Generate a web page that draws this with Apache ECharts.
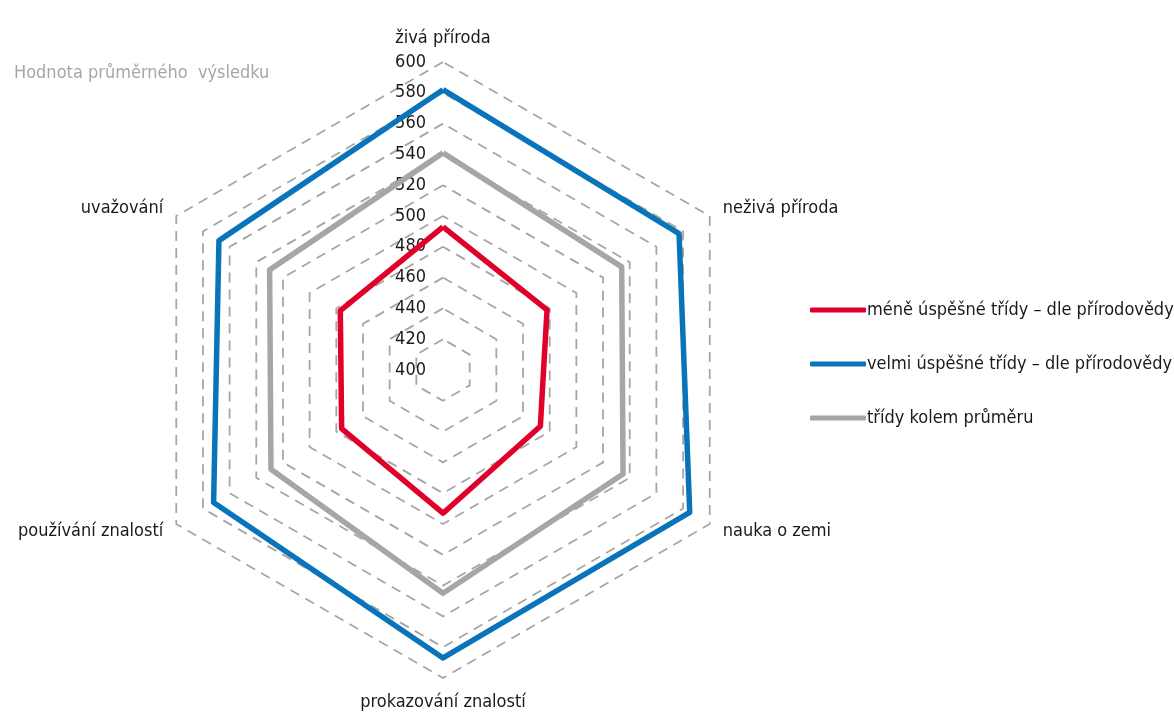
<!DOCTYPE html>
<html>
<head>
    <meta charset="UTF-8">
    <title>Hodnota průměrného výsledku</title>
    <script src="https://cdn.jsdelivr.net/npm/echarts@6/dist/echarts.min.js"></script>
    <style type="text/css">
        html, body, #main {
            height: 100%;
            width: 100%;
            margin: 0;
            padding: 0;
            background: #fff;
        }
    </style>
</head>
<body>
<div id="main"></div>
<script type="text/javascript">
    var FONT = "'Liberation Sans Narrow', 'DejaVu Sans Condensed', sans-serif";

    // osy (po směru hodinových ručiček od horní)
    var axes = ['živá příroda', 'neživá příroda', 'nauka o zemi', 'prokazování znalostí', 'používání znalostí', 'uvažování'];
    var seriesNames = ['méně úspěšné třídy – dle přírodovědy', 'velmi úspěšné třídy – dle přírodovědy', 'třídy kolem průměru'];
    var weakValues = [493, 478, 473, 493, 476, 477];
    var strongValues = [582, 577, 585, 587, 572, 568];
    var averageValues = [541, 534, 535, 545, 529, 530];
    var colors = ['#e0002a', '#0a74bb', '#a6a6a6'];

    var mycharts = echarts.init(document.getElementById('main'));

    // ECharts kreslí indikátory proti směru hodinových ručiček -> pořadí otočit
    var order = [0, 5, 4, 3, 2, 1];
    function reorder(arr) {
        return order.map(function (i) { return arr[i]; });
    }

    var indicator = reorder(axes).map(function (name, i) {
        var ind = {name: name, min: 400, max: 600};
        if (i === 0) {
            ind.axisLabel = {show: true};
        }
        return ind;
    });

    var option = {
        title: {
            text: 'Hodnota průměrného  výsledku',
            left: 9,
            top: 59,
            textStyle: {
                color: '#a6a6a6',
                fontFamily: FONT,
                fontSize: 18,
                fontWeight: 'normal'
            }
        },
        legend: {
            orient: 'vertical',
            left: 805,
            top: 296,
            itemWidth: 56,
            itemHeight: 5,
            itemGap: 36,
            icon: 'roundRect',
            textStyle: {
                fontFamily: FONT,
                fontSize: 18,
                color: '#1a1a1a',
                padding: [0, 0, 0, -4]
            },
            data: seriesNames
        },
        radar: {
            center: [443, 370],
            radius: 308,
            startAngle: 90,
            splitNumber: 10,
            shape: 'polygon',
            nameGap: 15,
            axisName: {
                color: '#1a1a1a',
                fontFamily: FONT,
                fontSize: 18
            },
            axisLine: {show: false},
            axisTick: {show: false},
            axisLabel: {
                show: false,
                margin: 17,
                color: '#1a1a1a',
                fontFamily: FONT,
                fontSize: 18
            },
            splitArea: {show: false},
            splitLine: {
                lineStyle: {
                    color: '#a6a6a6',
                    width: 1.8,
                    type: [10, 7]
                }
            },
            indicator: indicator
        },
        series: [{
            type: 'radar',
            symbol: 'none',
            data: [
                {name: seriesNames[0], value: reorder(weakValues),
                    lineStyle: {color: colors[0], width: 5.5}, itemStyle: {color: colors[0]}},
                {name: seriesNames[1], value: reorder(strongValues),
                    lineStyle: {color: colors[1], width: 5.5}, itemStyle: {color: colors[1]}},
                {name: seriesNames[2], value: reorder(averageValues),
                    lineStyle: {color: colors[2], width: 5.5}, itemStyle: {color: colors[2]}}
            ]
        }]
    };

    mycharts.setOption(option);
</script>
</body>
</html>
